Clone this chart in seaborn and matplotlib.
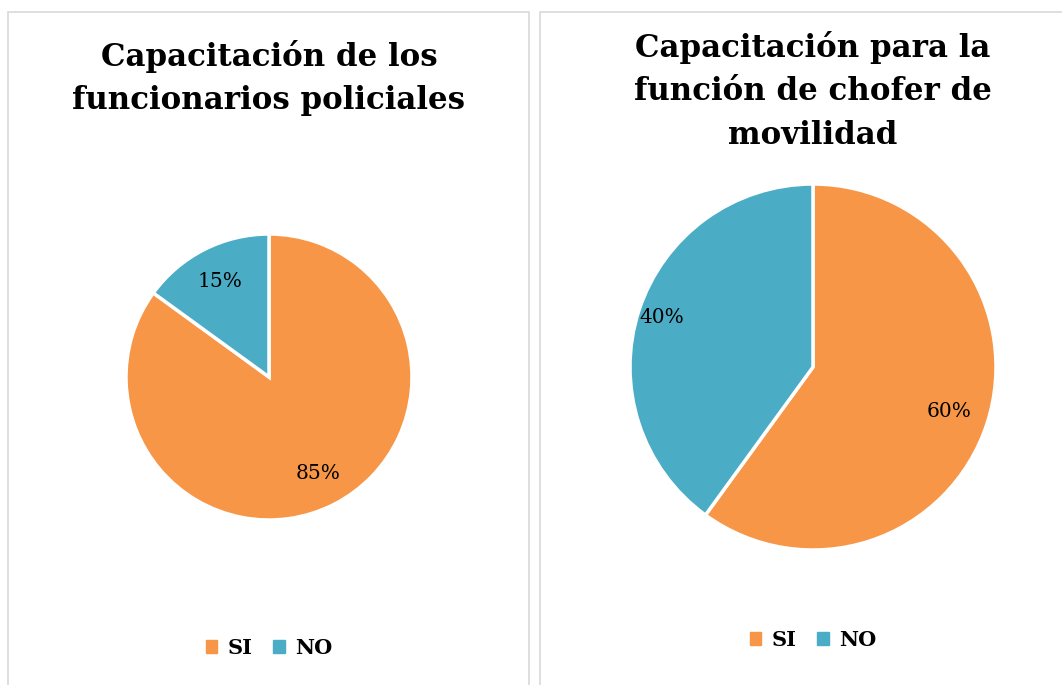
import matplotlib
matplotlib.use("Agg")
import matplotlib.pyplot as plt
import seaborn as sns
from matplotlib.patches import Rectangle, Patch

sns.set_theme(style="white")
plt.rcParams['font.family'] = ['DejaVu Serif']
plt.rcParams['text.color'] = 'black'

categories = ['SI', 'NO']
titles = ['Capacitación de los\nfuncionarios policiales',
          'Capacitación para la\nfunción de chofer de\nmovilidad']
policiales = [85, 15]
chofer = [60, 40]
colors = ['#F79646', '#4BACC6']

W, H = 1062, 685
fig = plt.figure(figsize=(W / 100, H / 100), dpi=100)
fig.patch.set_facecolor('white')

# panel borders
for x0, x1 in [(8, 529), (540, 1075)]:
    fig.patches.append(Rectangle((x0 / W, -0.05), (x1 - x0) / W, (H - 12) / H + 0.05,
                                 transform=fig.transFigure, fill=False,
                                 edgecolor='#d9d9d9', linewidth=1.2))

# (values, center x, center y, radius, pct distance per wedge, title y, legend y)
panels = [
    (policiales, 269, 377, 143, [0.76, 0.75], 78, 648),
    (chofer, 813, 367, 183, [0.78, 0.87], 91, 640),
]

for (vals, cx, cy, r, dists, ty, ly), title in zip(panels, titles):
    ax = fig.add_axes([(cx - r) / W, (H - cy - r) / H, 2 * r / W, 2 * r / H])
    wedges, texts, autotexts = ax.pie(
        vals, colors=colors, startangle=90, counterclock=False,
        autopct='%1.0f%%', pctdistance=1.0,
        wedgeprops=dict(edgecolor='white', linewidth=2.5),
        textprops=dict(fontsize=14.5, color='black'))
    for t, d in zip(autotexts, dists):
        x, y = t.get_position()
        t.set_position((x * d, y * d))
    ax.set_xlim(-1, 1)
    ax.set_ylim(-1, 1)
    ax.axis('off')
    fig.text(cx / W, 1 - ty / H, title, ha='center', va='center', color='black',
             fontsize=22.2, fontweight='bold', linespacing=1.5)
    handles = [Patch(color=c, label=l) for c, l in zip(colors, categories)]
    leg = fig.legend(handles=handles, loc='center', ncol=2, frameon=False,
                     bbox_to_anchor=(cx / W, 1 - ly / H),
                     prop=dict(size=15, weight='bold'),
                     handlelength=0.55, handleheight=0.55, handletextpad=0.5,
                     columnspacing=1.0)
    for t in leg.get_texts():
        t.set_color('black')

fig.savefig('out.png', dpi=100)
